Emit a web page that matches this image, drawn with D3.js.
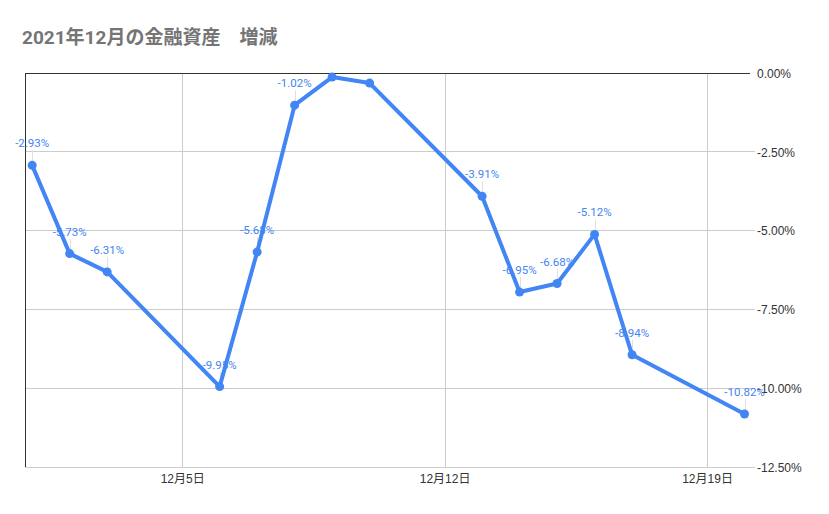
<!DOCTYPE html>
<html><head><meta charset="utf-8">
<script src="https://cdn.jsdelivr.net/npm/d3@7"></script>
<style>body{margin:0;background:#fff}svg{display:block}</style>
</head><body>
<svg id="chart" width="829" height="514"></svg>
<script>
const title = "2021年12月の金融資産　増減";
const dates = ["2021-12-01","2021-12-02","2021-12-03","2021-12-06","2021-12-07","2021-12-08","2021-12-09","2021-12-10","2021-12-13","2021-12-14","2021-12-15","2021-12-16","2021-12-17","2021-12-20"];
const values = [-2.93,-5.73,-6.31,-9.95,-5.68,-1.02,-0.13,-0.32,-3.91,-6.95,-6.68,-5.12,-8.94,-10.82];
const showLabel = [true,true,true,true,true,true,false,false,true,true,true,true,true,true];
const xTickDates = ["2021-12-05","2021-12-12","2021-12-19"];
const yTicks = [0,-2.5,-5,-7.5,-10,-12.5];

const parse = d3.timeParse("%Y-%m-%d");
const pct = v => (v<0?"-":"") + Math.abs(v).toFixed(2) + "%";
const data = dates.map((d,i)=>({date:parse(d), v:values[i], label:showLabel[i]}));
const svg = d3.select("#chart");
const L=25, R=750, T=73, B=467;
const blue="#4285f4";
const hour=3600e3;
const x = d3.scaleTime()
  .domain([new Date(+data[0].date - 4.6*hour), new Date(+data[data.length-1].date + 3.5*hour)])
  .range([L,R]);
const y = d3.scaleLinear().domain([-12.5,0]).range([B,T]);

svg.append("text").attr("x",22).attr("y",44).text(title)
  .attr("font-family","Roboto, 'Noto Sans CJK JP', sans-serif").attr("font-weight","bold")
  .attr("font-size",19).attr("fill","#757575");

// gridlines
const g = svg.append("g");
g.selectAll("line.hg").data(yTicks.filter(t=>t!==0)).join("line")
  .attr("x1",L).attr("x2",R+5).attr("y1",d=>y(d)).attr("y2",d=>y(d))
  .attr("stroke","#cccccc").attr("stroke-width",1).attr("shape-rendering","crispEdges");
g.selectAll("line.vg").data(xTickDates.map(parse)).join("line")
  .attr("x1",d=>Math.round(x(d))).attr("x2",d=>Math.round(x(d))).attr("y1",T).attr("y2",B)
  .attr("stroke","#cccccc").attr("stroke-width",1).attr("shape-rendering","crispEdges");
// zero line and left axis
g.append("line").attr("x1",L).attr("x2",R).attr("y1",y(0)).attr("y2",y(0))
  .attr("stroke","#333").attr("stroke-width",1).attr("shape-rendering","crispEdges");
g.append("line").attr("x1",L).attr("x2",L).attr("y1",T).attr("y2",B)
  .attr("stroke","#333").attr("stroke-width",1).attr("shape-rendering","crispEdges");

// axes labels
const yAxis = d3.axisRight(y).tickValues(yTicks).tickSize(0).tickPadding(0)
  .tickFormat(d=>pct(d));
const ya = svg.append("g").attr("transform",`translate(${R+7},0)`).call(yAxis);
ya.select(".domain").remove();
ya.selectAll("text").attr("font-family","Arial, 'Liberation Sans', sans-serif").attr("font-size",12).attr("fill","#333").attr("dy","0.35em");

const xAxis = d3.axisBottom(x).tickValues(xTickDates.map(parse)).tickSize(0).tickPadding(0)
  .tickFormat(d=>`${d.getMonth()+1}月${d.getDate()}日`);
const xa = svg.append("g").attr("transform",`translate(0,${B+7})`).call(xAxis);
xa.select(".domain").remove();
xa.selectAll("text").attr("font-family","Arial, 'Noto Sans CJK JP', sans-serif").attr("font-size",12).attr("fill","#333").attr("dy","0.71em");

// leader lines
const lab = data.filter(d=>d.label);
svg.append("g").selectAll("line").data(lab).join("line")
  .attr("x1",d=>Math.round(x(d.date))+0.5).attr("x2",d=>Math.round(x(d.date))+0.5)
  .attr("y1",d=>y(d.v)-15).attr("y2",d=>y(d.v)-3)
  .attr("stroke","#e0e0e0").attr("stroke-width",1);
// labels
svg.append("g").selectAll("text").data(lab).join("text")
  .attr("x",d=>x(d.date)).attr("y",d=>y(d.v)-18)
  .attr("text-anchor","middle").attr("font-family","Roboto, Arial, sans-serif")
  .attr("font-size",11.5).attr("fill",blue).text(d=>pct(d.v));

// line
svg.append("path").datum(data)
  .attr("d",d3.line().x(d=>x(d.date)).y(d=>y(d.v)))
  .attr("fill","none").attr("stroke",blue).attr("stroke-width",4).attr("stroke-linejoin","round");
svg.append("g").selectAll("circle").data(data).join("circle")
  .attr("cx",d=>x(d.date)).attr("cy",d=>y(d.v)).attr("r",4.5).attr("fill",blue);
</script>
</body></html>
